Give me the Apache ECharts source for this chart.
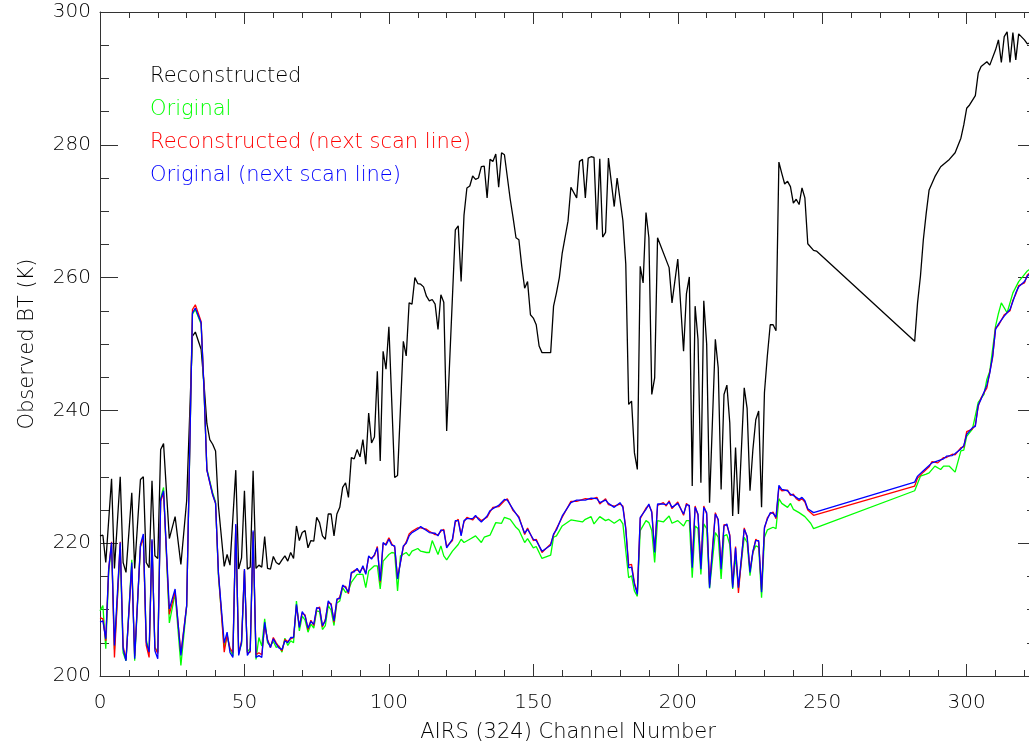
<!DOCTYPE html>
<html>
<head>
<meta charset="utf-8">
<script src="https://cdn.jsdelivr.net/npm/echarts@6/dist/echarts.min.js"></script>
<style>
html,body{margin:0;padding:0;background:#fff;}
#chart{width:1029px;height:747px;}
</style>
</head>
<body>
<div id="chart"></div>
<script>
// ---- Data (channel index, brightness temperature K) ----
const seriesNames = ['Reconstructed', 'Original', 'Reconstructed (next scan line)', 'Original (next scan line)'];
const seriesColors = ['#000000', '#00ff00', '#ff0000', '#0000ff'];
const xTicks = [0, 50, 100, 150, 200, 250, 300];
const yTicks = [200, 220, 240, 260, 280, 300];

const reconstructed = [[0,221.1],[1,221.2],[2,217.1],[4,229.7],[5,216.2],[7,230],[8,217.1],[9,215.6],[11,227.6],[12,216.2],[14,229.6],[15,230],[16,217.1],[17,216.3],[18,229.4],[19,218.1],[20,217.7],[21,234.1],[22,235],[24,220.7],[26,224],[28,216.8],[30,226.4],[32,251.2],[33,251.8],[35,249.2],[36,244],[37,238],[38,235.6],[39,234.9],[40,233.9],[41,225.6],[43,216.5],[44,218.3],[45,216.7],[47,231],[48,216.1],[49,217.8],[50,227.9],[51,216.1],[52,216.4],[53,230.9],[54,216.2],[55,216.7],[56,216.4],[57,221],[58,216.2],[59,216.1],[60,218],[61,217.1],[62,216.8],[63,217.5],[64,218.1],[65,217.3],[66,218.6],[67,217.7],[68,222.6],[69,220.4],[70,221.6],[71,221.9],[72,219.3],[73,220.4],[74,220.3],[75,223.9],[76,223.1],[77,221.1],[78,220.6],[79,224.4],[80,224.4],[81,221.1],[82,224.4],[83,225.4],[84,228.4],[85,229.1],[86,226.9],[87,232.9],[88,232.7],[89,234.1],[90,233],[91,235.6],[92,231.9],[93,239.6],[94,235.1],[95,236],[96,245.9],[97,232.4],[98,248.9],[99,246.2],[100,252.6],[102,229.9],[103,230.2],[105,250.4],[106,248.2],[107,256.2],[108,256],[109,260],[110,259.1],[111,259],[112,258.6],[113,257.2],[114,256.5],[115,256.7],[116,256],[117,252.2],[118,257.4],[119,256.3],[120,236.9],[123,267.2],[124,267.8],[125,259.4],[126,269.4],[127,273.5],[128,273.8],[129,275.3],[130,274.8],[131,275],[132,276.7],[133,276.8],[134,272],[135,277.8],[136,277.5],[137,278.6],[138,273.6],[139,278.8],[140,278.5],[142,271.8],[143,269],[144,266],[145,265.7],[146,261.7],[147,258.4],[148,259.4],[149,254.4],[150,253.9],[151,252.9],[152,249.7],[153,248.7],[156,248.7],[157,255.7],[158,257.7],[159,260],[160,263.7],[162,268.5],[163,273.6],[165,272],[166,277.5],[167,277.8],[168,272],[169,278],[170,278.2],[171,278.1],[172,267.2],[173,277.9],[174,266.1],[175,266.8],[176,278],[178,270.7],[179,275],[181,268.6],[182,262],[183,240.9],[184,241.4],[185,233.6],[186,231.1],[187,261.7],[188,259.2],[189,269.8],[190,266],[191,242.4],[192,244.9],[193,266],[197,261.5],[198,256.2],[200,262.8],[202,248.9],[203,257.6],[204,260.1],[205,228.6],[206,255.7],[207,250.7],[208,229.1],[209,256.5],[210,250],[211,226.1],[213,250.7],[214,246.4],[215,228.1],[216,242.4],[217,243.8],[218,238.1],[219,224.1],[220,234.4],[221,224.4],[223,243.4],[224,240.3],[225,227.9],[226,234.1],[227,238.6],[228,239.9],[229,225.4],[230,242.7],[231,248.2],[232,252.9],[233,252.9],[234,252],[235,277.4],[236,275.7],[237,274.1],[238,274.5],[239,273.7],[240,271.2],[241,271.8],[242,271],[243,273.5],[244,272],[245,265.1],[247,264.1],[248,264],[282,250.4],[283,256.2],[284,260.2],[285,265.7],[286,269.7],[287,273.2],[289,275.2],[291,276.7],[294,277.8],[296,278.8],[298,281],[299,283],[300,285.5],[301,286],[303,287.4],[304,290.8],[305,291.8],[307,292.5],[308,292],[310,294.3],[311,295.8],[312,292.4],[313,296.3],[314,297],[315,292.4],[316,296.9],[317,292.8],[318,296.7],[320,295.8],[321,295.2],[323,295.6]];

const original = [[0,209.8],[1,210.6],[2,204.1],[3,215.5],[4,219.8],[5,204],[7,219],[8,203.5],[9,202.3],[11,217.5],[12,202.3],[14,219.5],[15,221],[16,205.5],[17,203.5],[18,220.2],[19,204.3],[20,203.6],[21,226.8],[22,228.4],[24,208],[26,212.4],[28,201.6],[30,210.5],[32,254.5],[33,255.2],[35,253],[36,243],[37,231.2],[39,227.6],[40,226.2],[41,215],[43,204.3],[44,206],[45,204],[46,203],[47,222.6],[48,203.5],[49,204.8],[50,215.8],[51,203.6],[52,204.2],[53,221.6],[54,202.5],[55,205.8],[56,204.5],[57,208.6],[58,205],[59,204.6],[60,205.2],[61,204.3],[62,204.5],[63,203.6],[64,205.7],[65,204.6],[66,205.3],[67,205],[68,211.3],[69,206.8],[70,209],[71,208.4],[72,206.6],[73,207.8],[74,207.2],[75,209.8],[76,209.7],[77,207],[78,207.6],[79,210.6],[80,209.9],[81,207.6],[82,211],[83,211.3],[84,213.3],[85,212.6],[86,212.8],[87,214.1],[89,215.3],[91,215.3],[92,213.3],[93,215.8],[95,216.6],[96,216.6],[97,213.1],[98,217.3],[99,217.8],[100,218.3],[101,218.6],[102,218.5],[103,212.8],[104,218.1],[106,218.6],[107,218.1],[108,218.8],[110,219.2],[111,218.8],[113,218.6],[114,218.6],[115,220.4],[117,218.3],[118,219.6],[119,218.1],[120,217.5],[122,218.8],[124,219.8],[125,220.6],[126,220.1],[128,220.6],[130,221.1],[132,220.1],[133,220.9],[135,221.2],[137,223.1],[139,223],[140,223.9],[142,223.6],[144,222.4],[145,222],[147,220.1],[148,220.7],[150,219.3],[151,219.5],[153,217.7],[156,218.2],[157,220.9],[158,221.1],[160,222.6],[163,223.5],[167,223.2],[168,223.6],[170,224],[171,222.9],[173,224],[175,223.4],[176,223.6],[178,223],[180,223.6],[181,222.9],[183,214.8],[184,215.1],[185,212.8],[186,212],[187,221.9],[189,223.4],[190,223.1],[191,221.9],[192,217.1],[193,223.4],[195,223.2],[197,224.1],[198,223],[200,223.4],[202,222.6],[203,223.4],[204,223.4],[205,214.8],[206,222.6],[207,222.2],[208,215.3],[209,222.9],[210,222.2],[211,213.2],[213,221.6],[214,220.9],[215,214.6],[216,221.1],[217,221.3],[218,219.8],[219,213.1],[220,218.1],[221,213.3],[223,220.9],[224,220.1],[225,215.1],[226,218.6],[227,219.6],[228,219.4],[229,211.8],[230,220.9],[231,222],[233,222.4],[234,222.2],[235,226.7],[236,226],[238,225.4],[239,226],[240,225.1],[242,224.6],[244,224],[246,223],[247,222.2],[282,227.9],[284,230.1],[286,230.4],[287,230.6],[289,231.6],[291,231.1],[292,231.6],[294,231.6],[296,230.7],[298,233.9],[299,234],[300,236.1],[302,237.2],[304,241.2],[306,242.4],[307,244.7],[308,245.9],[310,252.7],[311,254.6],[312,256.2],[314,254.7],[316,257.7],[318,259.4],[321,261],[323,261.6]];

const reconNext = [[0,208.8],[1,208.6],[2,205.3],[3,216.1],[4,220.2],[5,202.8],[7,220.2],[8,204.5],[9,202.5],[11,216.5],[12,203],[14,219.5],[15,220.8],[16,204.6],[17,202.8],[18,220.4],[19,204.3],[20,203.4],[21,226.3],[22,227.6],[24,209.3],[26,212.7],[28,203.4],[30,210.6],[32,255.2],[33,255.9],[35,253.4],[36,243.4],[37,231],[39,227.3],[40,226],[41,215.5],[43,203.6],[44,206.2],[45,204.2],[46,203.5],[47,222.7],[48,203.3],[49,205.3],[50,216],[51,203.5],[52,203.6],[53,221.7],[54,203.2],[55,203.5],[56,203.2],[57,207.6],[58,205.5],[59,204.3],[60,205.8],[61,205],[62,204.4],[63,203.8],[64,205.5],[65,205.2],[66,205.6],[67,205.8],[68,210.6],[69,207.5],[70,209.5],[71,209.2],[72,207],[73,208.4],[74,207.6],[75,210.1],[76,210.4],[77,207.4],[78,208.5],[79,211],[80,210.9],[81,208.1],[82,211.4],[83,211.9],[84,213.5],[85,213.5],[86,212.4],[87,215.4],[88,215.9],[89,216],[90,215.7],[91,216.4],[92,215.5],[93,217.9],[94,217.8],[95,218.1],[96,219.5],[97,214.1],[98,219.9],[99,219.9],[100,220.8],[101,219.9],[102,219.4],[103,214.8],[105,219.4],[106,220.2],[107,221.4],[108,221.8],[110,222.3],[111,222.3],[113,222.1],[114,221.8],[116,221.3],[117,221.3],[118,221.8],[119,222.1],[120,219.5],[122,220.4],[123,223.2],[124,223.6],[125,221.3],[126,223.2],[127,223.9],[129,223.5],[130,224],[131,223.8],[132,223.4],[134,223.9],[135,224.7],[136,225.4],[138,225.5],[140,226.4],[141,226.7],[143,224.9],[145,224],[147,221.3],[148,222.3],[150,220.4],[151,220.6],[153,218.6],[156,219.9],[157,221.2],[158,222.2],[160,223.9],[163,226.3],[165,226.3],[168,226.7],[170,226.6],[172,226.9],[173,225.9],[175,226.7],[176,225.8],[178,225.6],[180,225.9],[181,225.6],[182,222.3],[183,216.7],[184,216.8],[185,214],[186,212.6],[187,223.7],[189,225.3],[190,225.7],[191,224.8],[192,218.9],[193,225.7],[195,226.1],[196,225.6],[197,226.4],[198,225.2],[200,226.2],[202,224.2],[203,226],[204,225.5],[205,217],[206,225.6],[207,224.2],[208,216.6],[209,225.6],[210,224.4],[211,213.8],[213,224.6],[214,223.4],[215,216.4],[216,222.8],[217,222.7],[218,221.3],[219,213.7],[220,219.5],[221,212.5],[223,222.3],[224,220.9],[225,215.9],[226,218.6],[227,220.6],[228,220.2],[229,213],[230,222.2],[231,223.8],[232,224.4],[233,224.7],[234,223.7],[235,228.4],[236,227.9],[238,228],[239,227.2],[240,227.4],[241,226.7],[242,226.4],[243,226.7],[244,226.2],[245,225],[247,224.2],[282,228.6],[283,229.8],[285,230.7],[287,231.5],[288,232.3],[290,232.1],[292,232.9],[293,232.9],[295,233.4],[296,233.3],[298,234.4],[299,234.5],[300,236.8],[302,237.2],[303,237.8],[304,240.6],[305,241.9],[307,243.4],[308,245.8],[309,248],[310,252.4],[311,252.8],[313,254.4],[315,255],[316,256.6],[317,257.5],[318,258.8],[320,259.2],[321,260.4],[323,261.1]];

const origNext = [[0,208.1],[1,208.3],[2,205.6],[3,216.1],[4,220.1],[5,204.6],[7,220.1],[8,204.1],[9,202.3],[11,217.1],[12,202.6],[14,219.8],[15,221.4],[16,205.1],[17,203.6],[18,220.6],[19,203.8],[20,202.6],[21,226.6],[22,227.9],[24,210.1],[26,213.1],[28,203.1],[30,210.6],[32,254.7],[33,255.4],[35,253.2],[36,243.2],[37,231],[39,227.3],[40,226],[41,215.5],[43,205],[44,206.6],[45,203.5],[46,202.8],[47,222.9],[48,203.1],[49,205.1],[50,216.1],[51,203.1],[52,203.8],[53,221.9],[54,202.8],[55,203.1],[56,202.8],[57,208.1],[58,205.3],[59,204.3],[60,205.6],[61,204.8],[62,204.2],[63,204],[64,205.3],[65,205],[66,205.8],[67,205.8],[68,210.8],[69,207.3],[70,209.7],[71,209],[72,207.2],[73,208.2],[74,207.8],[75,210.3],[76,210.2],[77,207.6],[78,208.3],[79,211.3],[80,210.7],[81,208.3],[82,211.6],[83,211.7],[84,213.7],[85,213.3],[86,212.6],[87,215.6],[88,215.7],[89,216.2],[90,215.5],[91,216.6],[92,215.3],[93,218.1],[94,217.6],[95,218.3],[96,219.3],[97,214.3],[98,220.1],[99,219.7],[100,220.6],[101,219.7],[102,219.6],[103,214.6],[105,219.6],[106,220],[107,221.1],[108,221.6],[110,222.1],[111,222.5],[113,221.9],[114,221.6],[116,221.5],[117,221.1],[118,222],[119,221.9],[120,219.3],[122,220.6],[123,223.4],[124,223.4],[125,221.1],[126,223.4],[127,223.7],[129,223.7],[130,224.2],[131,223.6],[132,223.2],[134,224.1],[135,224.9],[136,225.2],[138,225.7],[140,226.6],[141,226.5],[143,225.1],[145,223.8],[147,221.5],[148,222.1],[150,220.6],[151,220.4],[153,218.8],[156,219.7],[157,221.4],[158,222],[160,224.1],[163,226.1],[165,226.5],[168,226.5],[170,226.8],[172,226.7],[173,226.1],[175,226.5],[176,226],[178,225.4],[180,226.1],[181,225.4],[182,222.1],[183,216.3],[184,216.4],[185,213.8],[186,212.3],[187,223.9],[189,225.1],[190,225.9],[191,224.6],[192,218.6],[193,225.9],[195,225.9],[196,225.8],[197,226.2],[198,225.4],[200,226],[202,224.4],[203,225.8],[204,225.7],[205,216.3],[206,225.4],[207,224.4],[208,216.1],[209,225.4],[210,224.6],[211,213.3],[213,224.4],[214,223.6],[215,216.1],[216,222.6],[217,222.9],[218,221.1],[219,213.3],[220,219.3],[221,213.3],[223,222.1],[224,221.1],[225,215.6],[226,218.8],[227,220.4],[228,220.4],[229,212.6],[230,222.4],[231,223.6],[232,224.6],[233,224.5],[234,223.9],[235,228.7],[236,228.1],[238,227.9],[239,227.4],[240,227.2],[241,226.9],[242,226.6],[243,226.9],[244,226.4],[245,225.2],[247,224.6],[282,229.2],[283,230.1],[285,230.9],[287,231.7],[288,232.1],[290,232.4],[292,232.7],[293,233.1],[295,233.2],[296,233.5],[298,234.2],[299,234.7],[300,236.4],[302,237.4],[303,237.6],[304,240.8],[305,241.7],[307,243.8],[308,245.6],[309,248.2],[310,252.2],[311,253],[313,254.2],[315,255.2],[316,256.4],[317,257.7],[318,258.6],[320,259.4],[321,260.2],[323,261]];

const seriesData = [reconstructed, original, reconNext, origNext];

// ---- Chart ----
const FONT = "'DejaVu Sans', 'Liberation Sans', sans-serif";
const FW = 200;
const AX = '#333333';
const TXT = '#000000';
const chart = echarts.init(document.getElementById('chart'), null, {renderer: 'canvas'});

function xAxisCfg(pos, showLabels) {
  return {
    type: 'value', position: pos, min: 0, max: 324, interval: 50,
    axisLine: {show: true, onZero: false, lineStyle: {color: AX, width: 1}},
    axisTick: {show: true, inside: true, length: 12, lineStyle: {color: AX}},
    minorTick: {show: true, splitNumber: 5, length: 6, lineStyle: {color: AX}},
    splitLine: {show: false}, minorSplitLine: {show: false},
    axisLabel: {show: showLabels, fontSize: 20, fontFamily: FONT, fontWeight: FW, color: TXT, margin: 17,
      formatter: v => xTicks.indexOf(v) >= 0 ? String(v) : ''},
    name: showLabels ? 'AIRS (324) Channel Number' : '',
    nameLocation: 'middle', nameGap: 46,
    nameTextStyle: {fontSize: 21, fontFamily: FONT, fontWeight: FW, color: TXT}
  };
}
function yAxisCfg(pos, showLabels) {
  return {
    type: 'value', position: pos, min: 200, max: 300, interval: 20,
    axisLine: {show: true, onZero: false, lineStyle: {color: AX, width: 1}},
    axisTick: {show: true, inside: true, length: 18, lineStyle: {color: AX}},
    minorTick: {show: true, splitNumber: 4, length: 9, lineStyle: {color: AX}},
    splitLine: {show: false}, minorSplitLine: {show: false},
    axisLabel: {show: showLabels, fontSize: 20, fontFamily: FONT, fontWeight: FW, color: TXT, margin: 9,
      formatter: v => yTicks.indexOf(v) >= 0 ? String(v) : ''},
    name: showLabels ? 'Observed BT (K)' : '',
    nameLocation: 'middle', nameGap: 62,
    nameTextStyle: {fontSize: 21, fontFamily: FONT, fontWeight: FW, color: TXT}
  };
}

const option = {
  backgroundColor: '#ffffff',
  animation: false,
  grid: {left: 100, right: -7, top: 12, bottom: 71, containLabel: false, outerBoundsMode: 'none'},
  xAxis: [xAxisCfg('bottom', true), xAxisCfg('top', false)],
  yAxis: [yAxisCfg('left', true), yAxisCfg('right', false)],
  legend: {
    orient: 'vertical', left: 140, top: 61, itemGap: 12,
    itemWidth: 0, itemHeight: 0, icon: 'rect', selectedMode: false,
    textStyle: {fontSize: 21, fontFamily: FONT, fontWeight: FW},
    data: seriesNames.map((n, i) => ({name: n, textStyle: {color: seriesColors[i], fontWeight: FW}}))
  },
  series: seriesNames.map((n, i) => ({
    name: n, type: 'line', xAxisIndex: 0, yAxisIndex: 0,
    data: seriesData[i], showSymbol: false, symbol: 'none',
    lineStyle: {color: seriesColors[i], width: 1.3},
    itemStyle: {color: seriesColors[i]},
    z: 2 + i
  }))
};
chart.setOption(option);
</script>
</body>
</html>
